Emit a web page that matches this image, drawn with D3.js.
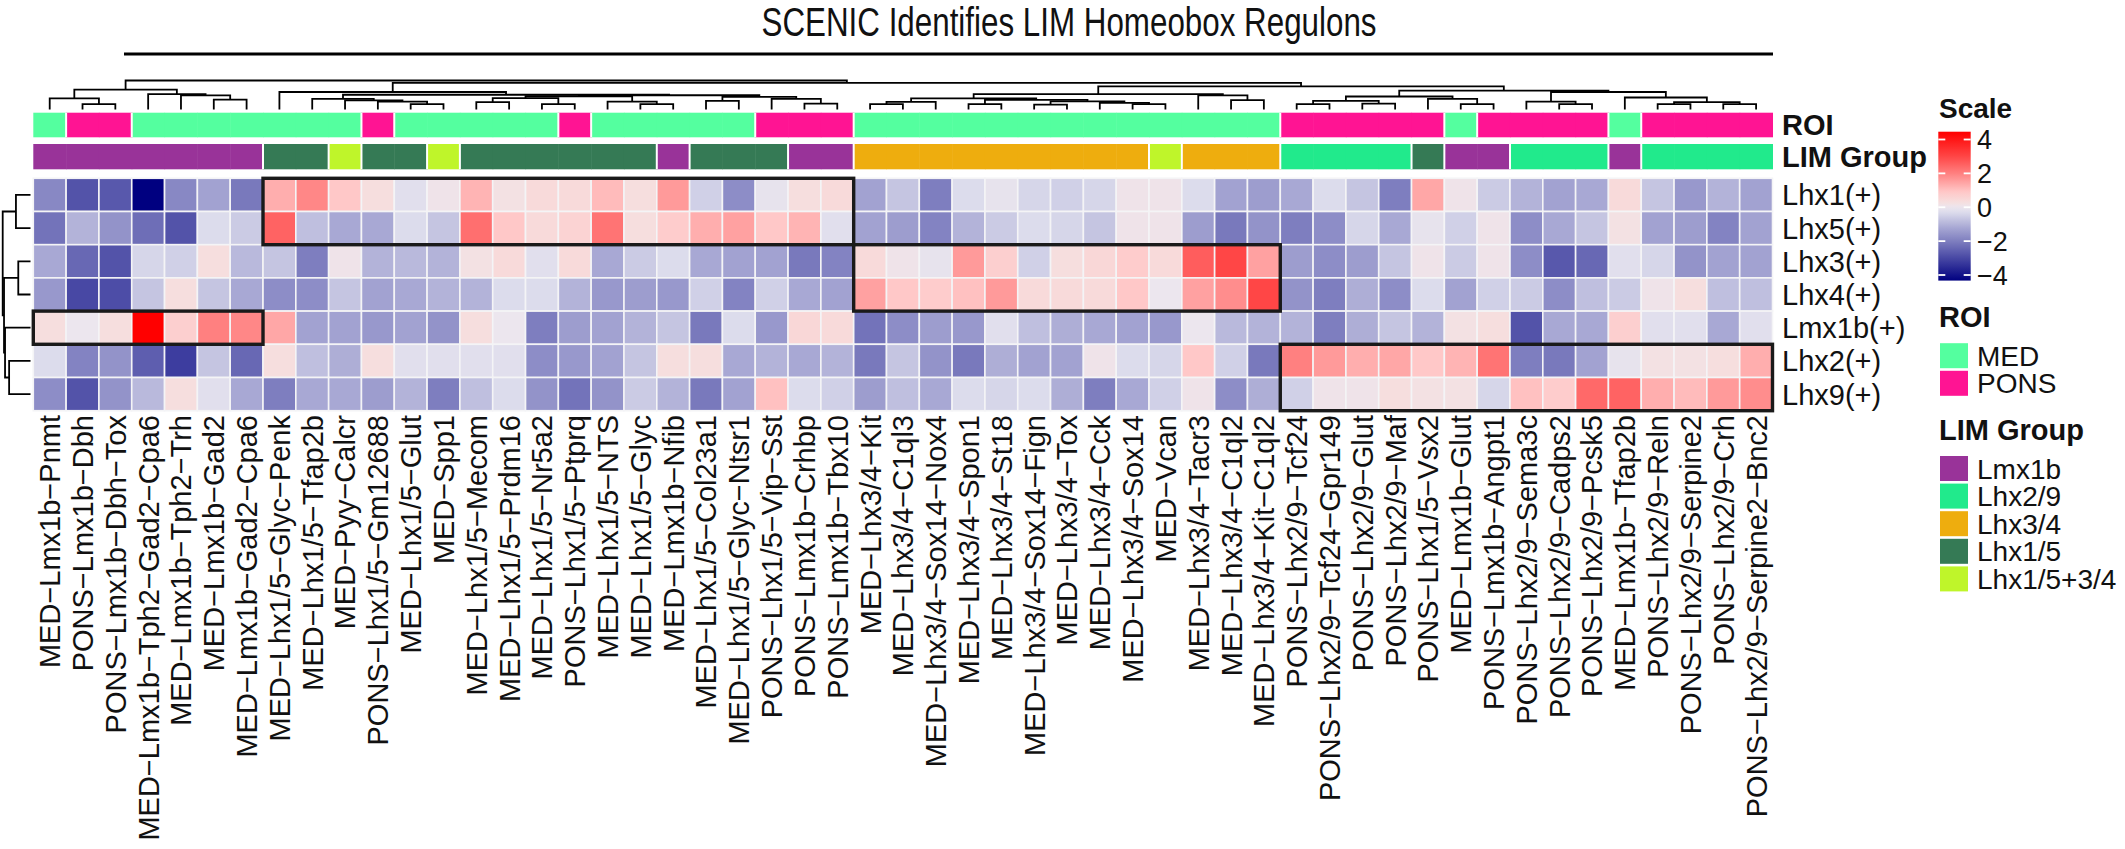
<!DOCTYPE html>
<html><head><meta charset="utf-8">
<script src="https://cdn.jsdelivr.net/npm/d3@7"></script>
<style>
body{margin:0;background:#fff;}
svg{display:block;font-family:"Liberation Sans",Arial,Helvetica,sans-serif;}
</style>
</head><body>
<svg id="chart" width="2125" height="849"></svg>
<script>
// ---------------- DATA ----------------
const columns = [
"MED−Lmx1b−Pnmt","PONS−Lmx1b−Dbh","PONS−Lmx1b−Dbh−Tox","MED−Lmx1b−Tph2−Gad2−Cpa6","MED−Lmx1b−Tph2−Trh",
"MED−Lmx1b−Gad2","MED−Lmx1b−Gad2−Cpa6","MED−Lhx1/5−Glyc−Penk","MED−Lhx1/5−Tfap2b","MED−Pyy−Calcr",
"PONS−Lhx1/5−Gm12688","MED−Lhx1/5−Glut","MED−Spp1","MED−Lhx1/5−Mecom","MED−Lhx1/5−Prdm16",
"MED−Lhx1/5−Nr5a2","PONS−Lhx1/5−Ptprq","MED−Lhx1/5−NTS","MED−Lhx1/5−Glyc","MED−Lmx1b−Nfib",
"MED−Lhx1/5−Col23a1","MED−Lhx1/5−Glyc−Ntsr1","PONS−Lhx1/5−Vip−Sst","PONS−Lmx1b−Crhbp","PONS−Lmx1b−Tbx10",
"MED−Lhx3/4−Kit","MED−Lhx3/4−C1ql3","MED−Lhx3/4−Sox14−Nox4","MED−Lhx3/4−Spon1","MED−Lhx3/4−St18",
"MED−Lhx3/4−Sox14−Fign","MED−Lhx3/4−Tox","MED−Lhx3/4−Cck","MED−Lhx3/4−Sox14","MED−Vcan",
"MED−Lhx3/4−Tacr3","MED−Lhx3/4−C1ql2","MED−Lhx3/4−Kit−C1ql2","PONS−Lhx2/9−Tcf24","PONS−Lhx2/9−Tcf24−Gpr149",
"PONS−Lhx2/9−Glut","PONS−Lhx2/9−Maf","PONS−Lhx1/5−Vsx2","MED−Lmx1b−Glut","PONS−Lmx1b−Angpt1",
"PONS−Lhx2/9−Sema3c","PONS−Lhx2/9−Cadps2","PONS−Lhx2/9−Pcsk5","MED−Lmx1b−Tfap2b","PONS−Lhx2/9−Reln",
"PONS−Lhx2/9−Serpine2","PONS−Lhx2/9−Crh","PONS−Lhx2/9−Serpine2−Bnc2"
];
const regulons = ["Lhx1(+)","Lhx5(+)","Lhx3(+)","Lhx4(+)","Lmx1b(+)","Lhx2(+)","Lhx9(+)"];

const lhx1Vals = [-1.8,-2.8,-2.7,-4.33,-1.8,-1.3,-2.1,1.3,1.9,0.9,0.3,-0.2,0.1,1.2,0.2,0.4,0.4,1.1,0.3,1.6,-0.5,-1.7,-0.1,0.3,0.4,-1.3,-0.7,-2.0,-0.3,-0.1,-0.4,-0.5,-0.4,0.1,0.1,-0.3,-1.3,-1.4,-1.2,-0.3,-0.7,-2.0,1.4,0.1,-0.6,-1.0,-1.3,-1.2,0.4,-0.7,-1.5,-1.0,-1.3];
const lhx5Vals = [-2.2,-1.0,-1.6,-2.3,-2.8,-0.3,-0.6,2.5,-0.8,-1.2,-1.2,-0.3,-0.7,2.3,0.9,0.4,0.6,2.2,0.3,0.8,1.3,1.5,0.9,1.2,-0.2,-1.3,-1.4,-1.9,-1.0,-0.6,-0.3,-0.4,-0.7,0.1,0.1,-1.4,-2.1,-1.6,-2.0,-1.7,-0.4,-1.2,-0.1,-0.5,0.1,-1.7,-1.2,-0.7,0.2,-1.3,-1.4,-1.9,-1.3];
const lhx3Vals = [-1.2,-2.4,-2.8,-0.4,-0.5,0.3,-0.9,-0.7,-2.0,0.1,-1.0,-0.9,-1.0,0.2,0.4,-0.2,0.4,-1.2,-0.6,-0.3,-1.2,-1.3,-1.3,-2.1,-1.9,0.4,0.1,-0.1,1.6,0.7,-0.5,0.3,0.5,0.8,0.4,2.6,3.0,1.5,-1.4,-1.7,-1.4,-0.7,0.1,-0.6,0.1,-1.7,-2.7,-2.4,-0.2,-0.4,-1.6,-1.3,-1.3];
const lhx4Vals = [-1.5,-3.0,-2.9,-0.7,0.3,-0.7,-1.2,-1.7,-1.7,-0.7,-1.3,-1.2,-1.0,-1.0,-0.3,-0.3,-1.0,-1.5,-1.4,-1.5,-0.5,-1.9,-0.5,-1.2,-1.3,1.5,0.9,0.8,1.0,1.6,0.4,0.4,0.4,0.9,0.0,1.5,1.8,3.0,-1.6,-2.0,-1.1,-1.7,-0.3,-1.3,-0.5,-0.6,-1.7,-0.8,-0.6,0.1,0.3,-0.8,-0.8];
const lmx1bVals = [0.3,0.0,0.3,4.46,0.7,2.0,1.9,1.4,-1.3,-1.3,-1.5,-1.3,-1.6,0.3,0.0,-2.0,-1.4,-1.3,-1.0,-0.7,-2.1,-0.3,-1.5,0.5,0.4,-2.2,-1.7,-1.4,-1.5,-0.2,-0.8,-1.1,-1.2,-1.3,-1.5,0.0,-0.9,-1.0,-1.0,-2.0,-1.1,-0.7,-1.0,0.2,0.3,-2.8,-1.2,-1.2,0.7,-0.2,-0.2,-1.2,-0.2];
const lhx2Vals = [-0.3,-1.9,-1.6,-2.6,-3.2,-0.7,-2.4,0.3,-0.8,-1.1,0.3,-0.2,-0.2,-0.2,-0.2,-1.7,-1.5,-1.3,-0.7,0.3,0.3,-1.2,-1.0,-1.2,-1.0,-2.1,-0.7,-1.6,-2.1,-1.1,-1.3,-1.3,0.1,-0.3,-0.4,0.9,-0.5,-2.1,2.0,1.6,1.3,1.4,0.9,1.2,2.2,-2.0,-2.1,-1.3,-0.1,0.2,0.2,0.3,1.3];
const lhx9Vals = [-1.7,-2.8,-1.6,-0.9,0.3,-0.2,-1.2,-2.0,-1.2,-1.2,-1.4,-1.0,-2.0,-0.8,-0.3,-1.6,-2.2,-1.6,-0.6,-1.0,-2.1,-1.3,1.0,-0.3,-0.5,-1.4,-0.8,-1.2,-0.3,-0.4,-0.3,-1.1,-2.0,-1.2,-0.5,0.1,-1.7,-1.1,-0.5,0.1,0.1,0.3,0.2,0.2,-0.4,1.0,0.8,2.4,2.5,1.3,1.1,1.6,1.8];
const regulonValues = [lhx1Vals, lhx5Vals, lhx3Vals, lhx4Vals, lmx1bVals, lhx2Vals, lhx9Vals];

const roi = ["MED","PONS","PONS","MED","MED","MED","MED","MED","MED","MED",
"PONS","MED","MED","MED","MED","MED","PONS","MED","MED","MED",
"MED","MED","PONS","PONS","PONS","MED","MED","MED","MED","MED",
"MED","MED","MED","MED","MED","MED","MED","MED","PONS","PONS",
"PONS","PONS","PONS","MED","PONS","PONS","PONS","PONS","MED","PONS",
"PONS","PONS","PONS"];
const limGroup = ["Lmx1b","Lmx1b","Lmx1b","Lmx1b","Lmx1b","Lmx1b","Lmx1b","Lhx1/5","Lhx1/5","Lhx1/5+3/4",
"Lhx1/5","Lhx1/5","Lhx1/5+3/4","Lhx1/5","Lhx1/5","Lhx1/5","Lhx1/5","Lhx1/5","Lhx1/5","Lmx1b",
"Lhx1/5","Lhx1/5","Lhx1/5","Lmx1b","Lmx1b","Lhx3/4","Lhx3/4","Lhx3/4","Lhx3/4","Lhx3/4",
"Lhx3/4","Lhx3/4","Lhx3/4","Lhx3/4","Lhx1/5+3/4","Lhx3/4","Lhx3/4","Lhx3/4","Lhx2/9","Lhx2/9",
"Lhx2/9","Lhx2/9","Lhx1/5","Lmx1b","Lmx1b","Lhx2/9","Lhx2/9","Lhx2/9","Lmx1b","Lhx2/9",
"Lhx2/9","Lhx2/9","Lhx2/9"];

const roiLevels = ["MED","PONS"];
const roiColors = ["#54FF9F","#FF1493"];
const limLevels = ["Lmx1b","Lhx2/9","Lhx3/4","Lhx1/5","Lhx1/5+3/4"];
const limColors = ["#993399","#21EA8C","#EEAD0E","#357A55","#BFF52A"];

const scaleTicks = [4, 2, 0, -2, -4];
const scaleRange = [-4.33, 4.46];
const colorStopValues = [-4.33, -2.0, -1.3, -0.3, 0, 0.3, 0.9, 2.0, 3.0, 4.46];
const colorStopColors = ["#000080","#7E7EBF","#A2A2D1","#DCDCEC","#ECE6EE","#F6DEDE","#FFC8C8","#FF8080","#FF4646","#FF0000"];

// hclust-style merge tables: negative = leaf (1-based), positive = earlier merge (1-based); third = height
const colMerge = [
[-2,-3,5.2],[-1,1,11],[-6,-7,9.8],[-5,3,13.8],[-4,4,15.2],[2,5,19.5],
[-12,-13,5.2],[-11,7,7.8],[-10,8,9.0],[-9,9,10.5],[-14,-15,7.2],[-16,-17,5.2],[11,12,11.2],
[-19,-20,5.2],[-18,14,7.8],[13,15,13.0],[-21,-22,8.5],[-24,-25,5.8],[-23,18,10.5],[17,19,12.5],
[16,20,14.0],[10,21,14.5],[-8,22,17.2],
[-26,-27,5.2],[24,-28,7.5],[-29,-30,5.2],[-31,-32,4.8],[-34,-35,5.2],[-33,28,6.5],[27,29,8.0],
[26,30,9.5],[25,31,11.0],[-37,-38,9.2],[-36,33,13.8],[32,34,15.2],
[-39,-40,5.2],[-41,-42,5.8],[36,37,8.5],[-44,-45,5.2],[-43,39,10.5],[38,40,12.8],
[-47,-48,5.2],[-46,42,7.8],[-50,-51,5.2],[-52,-53,5.2],[44,45,7.2],[-49,46,11.8],[43,47,17.2],
[41,48,18.5],[35,49,22.8],[23,50,26.2],[6,51,28.5]
];
const rowMerge = [[-1,-2,14.3],[-3,-4,12.0],[-6,-7,21.0],[-5,3,25.0],[2,4,26.0],[1,5,27.3]];

// highlighted blocks: [firstRow, lastRow, firstCol, lastCol] (0-based)
const highlightBoxes = [[0,1,7,24],[2,3,25,37],[4,4,0,6],[5,6,38,52]];

const titleText = "SCENIC Identifies LIM Homeobox Regulons";

// ---------------- DRAW ----------------
const svg = d3.select("#chart");
const x = d3.scaleBand().domain(d3.range(columns.length)).range([33.3, 1772.5]);
const y = d3.scaleBand().domain(d3.range(regulons.length)).range([178.3, 410.7]);
const color = d3.scaleLinear().domain(colorStopValues).range(colorStopColors).clamp(true);
const roiColor = d3.scaleOrdinal().domain(roiLevels).range(roiColors);
const limColor = d3.scaleOrdinal().domain(limLevels).range(limColors);

// title
svg.append("text").attr("x", 1069).attr("y", 36).attr("text-anchor","middle")
  .attr("font-size", 40).attr("textLength", 615).attr("lengthAdjust","spacingAndGlyphs")
  .attr("fill","#111").text(titleText);
svg.append("line").attr("x1",124).attr("x2",1773).attr("y1",54).attr("y2",54)
  .attr("stroke","#000").attr("stroke-width",3);

// heatmap cells
const cells = [];
regulonValues.forEach((vals, r) => vals.forEach((v, c) => cells.push({r, c, v})));
svg.append("g").selectAll("rect").data(cells).join("rect")
  .attr("x", d => x(d.c)).attr("y", d => y(d.r))
  .attr("width", x.bandwidth()).attr("height", y.bandwidth())
  .attr("fill", d => color(d.v)).attr("stroke", "#F4F4F6").attr("stroke-width", 1.6);

// annotation bars
const roiY = 112.7, roiH = 24.6, limY = 144, limH = 25.3;
function annotBar(vals, cscale, yy, hh) {
  const g = svg.append("g");
  g.selectAll("rect").data(vals).join("rect")
    .attr("x", (d, i) => x(i)).attr("y", yy).attr("width", x.bandwidth() + 0.5).attr("height", hh)
    .attr("fill", d => cscale(d));
  const bounds = vals.map((d, i) => i).filter(i => i > 0 && vals[i] !== vals[i - 1]);
  g.selectAll("line").data(bounds).join("line")
    .attr("x1", i => x(i)).attr("x2", i => x(i)).attr("y1", yy).attr("y2", yy + hh)
    .attr("stroke", "#fff").attr("stroke-width", 2);
}
annotBar(roi, roiColor, roiY, roiH);
annotBar(limGroup, limColor, limY, limH);

// highlight boxes
svg.append("g").selectAll("rect").data(highlightBoxes).join("rect")
  .attr("x", d => x(d[2])).attr("y", d => y(d[0]))
  .attr("width", d => x(d[3]) + x.bandwidth() - x(d[2]))
  .attr("height", d => y(d[1]) + y.bandwidth() - y(d[0]))
  .attr("fill","none").attr("stroke","#1a1a1a").attr("stroke-width",3.4);

// dendrograms
function layoutDendro(merge, leafPos) {
  const nodes = [];
  const get = i => i < 0 ? {pos: leafPos(-i - 1), h: 0} : nodes[i - 1];
  merge.forEach(([a, b, h]) => {
    const A = get(a), B = get(b);
    nodes.push({pos: (A.pos + B.pos) / 2, h, A, B});
  });
  return nodes;
}
const colNodes = layoutDendro(colMerge, i => x(i) + x.bandwidth() / 2);
const colH = d3.scaleLinear().domain([0, d3.max(colMerge, d => d[2])]).range([109.5, 80.5]);
svg.append("g").selectAll("path").data(colNodes).join("path")
  .attr("d", n => `M${n.A.pos},${colH(n.A.h)}V${colH(n.h)}H${n.B.pos}V${colH(n.B.h)}`)
  .attr("fill","none").attr("stroke","#000").attr("stroke-width",1.8);

const rowNodes = layoutDendro(rowMerge, i => y(i) + y.bandwidth() / 2);
const rowH = d3.scaleLinear().domain([0, d3.max(rowMerge, d => d[2])]).range([30.5, 2.7]);
svg.append("g").selectAll("path").data(rowNodes).join("path")
  .attr("d", n => `M${rowH(n.A.h)},${n.A.pos}H${rowH(n.h)}V${n.B.pos}H${rowH(n.B.h)}`)
  .attr("fill","none").attr("stroke","#000").attr("stroke-width",1.8);

// column labels
svg.append("g").selectAll("text").data(columns).join("text")
  .attr("transform", (d, i) => `translate(${x(i) + x.bandwidth() / 2},415) rotate(-90)`)
  .attr("text-anchor","end").attr("dy","0.36em").attr("font-size",29).attr("fill","#111")
  .text(d => d);

// row labels
svg.append("g").selectAll("text").data(regulons).join("text")
  .attr("x", 1782).attr("y", (d, i) => y(i) + y.bandwidth() / 2).attr("dy","0.36em")
  .attr("font-size",29).attr("fill","#111").text(d => d);

// annotation names
[["ROI", roiY + roiH / 2], ["LIM Group", limY + limH / 2]].forEach(([t, yy]) => {
  svg.append("text").attr("x",1782).attr("y",yy).attr("dy","0.36em")
    .attr("font-size",29).attr("font-weight","bold").attr("fill","#111").text(t);
});

// colour legend
const lx = 1938.3, lw = 32.4;
const ly = d3.scaleLinear().domain([-4, 4]).range([275, 139.5]);
const defs = svg.append("defs");
const grad = defs.append("linearGradient").attr("id","scaleGrad")
  .attr("x1",0).attr("x2",0).attr("y1",1).attr("y2",0);
d3.range(0, 1.0001, 0.02).forEach(t => {
  const v = scaleRange[0] + t * (scaleRange[1] - scaleRange[0]);
  grad.append("stop").attr("offset", t).attr("stop-color", color(v));
});
svg.append("text").attr("x",1939).attr("y",118).attr("font-size",28).attr("font-weight","bold")
  .attr("fill","#111").text("Scale");
svg.append("rect").attr("x",lx).attr("y",ly(scaleRange[1])).attr("width",lw)
  .attr("height", ly(scaleRange[0]) - ly(scaleRange[1])).attr("fill","url(#scaleGrad)");
const tg = svg.append("g");
tg.selectAll("line.l").data(scaleTicks).join("line").attr("class","l")
  .attr("x1",lx).attr("x2",lx + 7).attr("y1",d => ly(d)).attr("y2",d => ly(d))
  .attr("stroke","#fff").attr("stroke-width",1.8);
tg.selectAll("line.r").data(scaleTicks).join("line").attr("class","r")
  .attr("x1",lx + lw - 7).attr("x2",lx + lw).attr("y1",d => ly(d)).attr("y2",d => ly(d))
  .attr("stroke","#fff").attr("stroke-width",1.8);
tg.selectAll("text").data(scaleTicks).join("text")
  .attr("x",1977).attr("y",d => ly(d)).attr("dy","0.36em").attr("font-size",27).attr("fill","#111")
  .text(d => d < 0 ? "−" + Math.abs(d) : String(d));

// categorical legends
function catLegend(title, titleY, levels, colors, keyY0) {
  svg.append("text").attr("x",1939).attr("y",titleY).attr("font-size",29).attr("font-weight","bold")
    .attr("fill","#111").text(title);
  const g = svg.append("g");
  g.selectAll("rect").data(levels).join("rect")
    .attr("x",1940).attr("y",(d, i) => keyY0 + i * 27.6).attr("width",28).attr("height",25)
    .attr("fill",(d, i) => colors[i]);
  g.selectAll("text").data(levels).join("text")
    .attr("x",1977).attr("y",(d, i) => keyY0 + i * 27.6 + 12.5).attr("dy","0.36em")
    .attr("font-size",28).attr("fill","#111").text(d => d);
}
catLegend("ROI", 326.7, roiLevels, roiColors, 343.2);
catLegend("LIM Group", 440, limLevels, limColors, 456);
</script>
</body></html>
